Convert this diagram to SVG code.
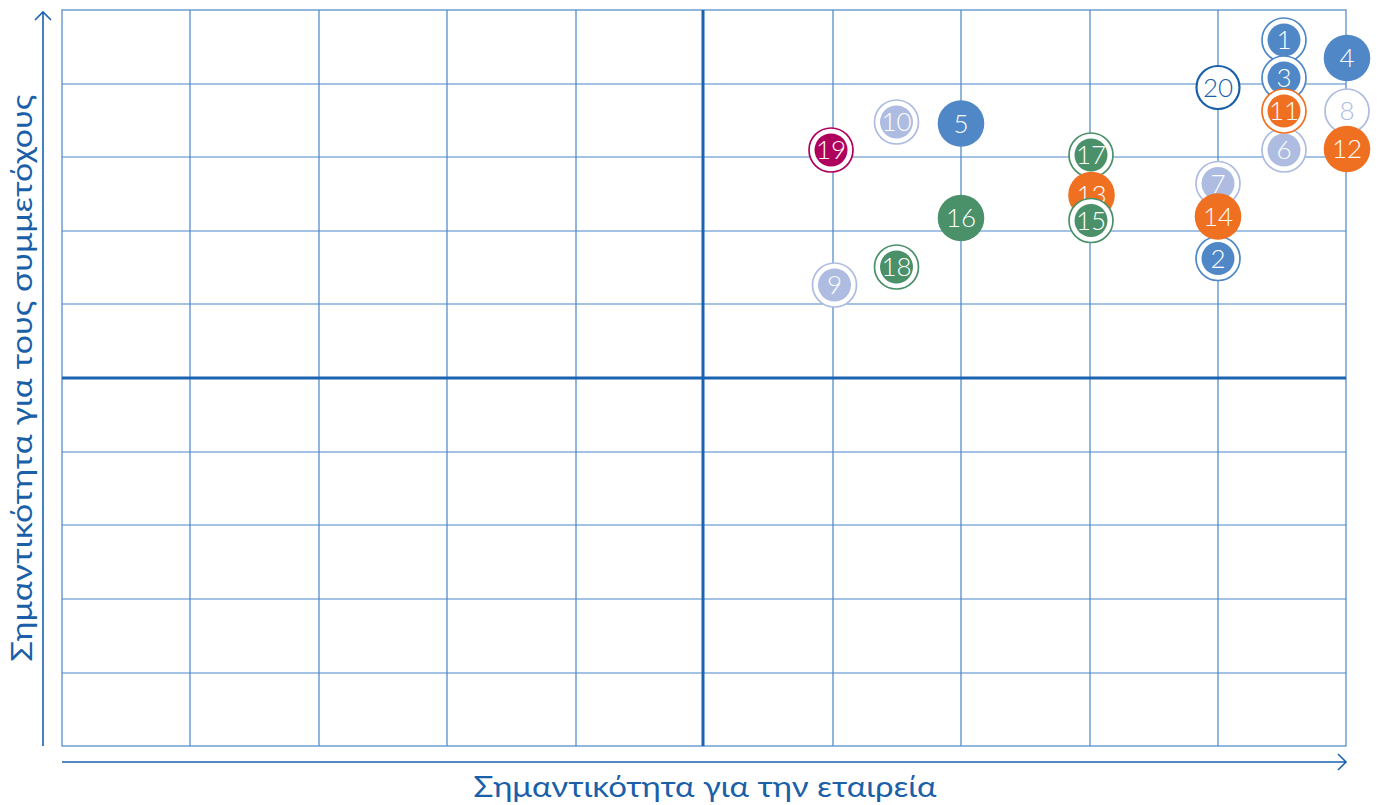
<svg xmlns="http://www.w3.org/2000/svg" width="1379" height="805" viewBox="0 0 1379 805">
<defs>
<style>
.g{stroke:#4a86c8;stroke-width:1.2;fill:none}
.c{stroke:#1a63b0;stroke-width:3;fill:none}
.ax{stroke:#1a63b0;stroke-width:1.6;fill:none}
.lbl{font-family:Lato,"Noto Sans","DejaVu Sans",sans-serif;font-weight:400;font-size:29px;fill:#1a5fa8}
.t{font-family:Lato,"Noto Sans","DejaVu Sans",sans-serif;font-weight:300;font-size:26px;text-anchor:middle;fill:#ffffff}
.ring{fill:#ffffff;stroke-width:1.7}
.blue{fill:#4f87c7}.bs{stroke:#4f87c7}
.org{fill:#f07022}.os{stroke:#f07022}
.grn{fill:#4a9068}.gs{stroke:#4a9068}
.lt{fill:#adbce0}.ls{stroke:#adbce0}
.mag{fill:#b0005e}.ms{stroke:#b0005e}
</style>
</defs>
<rect width="1379" height="805" fill="#ffffff"/>
<g id="grid">
<rect x="62" y="10" width="1284" height="736" class="g"/>
<path class="g" d="M190,10V746M319,10V746M447,10V746M576,10V746M833,10V746M961,10V746M1090,10V746M1218,10V746M62,84H1346M62,157H1346M62,231H1346M62,304H1346M62,452H1346M62,525H1346M62,599H1346M62,673H1346"/>
<path class="c" d="M703,10V746M62,378H1346"/>
</g>
<g id="axes">
<path class="ax" d="M43,746V12M35,20L43,12L51,20"/>
<path class="ax" d="M62,762H1345M1338,754L1346,762L1338,770"/>
<text class="lbl" x="705" y="797" text-anchor="middle" textLength="463" lengthAdjust="spacingAndGlyphs">Σημαντικότητα για την εταιρεία</text>
<text class="lbl" transform="translate(32,378) rotate(-90)" text-anchor="middle" textLength="567" lengthAdjust="spacingAndGlyphs">Σημαντικότητα για τους συμμετόχους</text>
</g>
<g id="n1"><circle cx="1284" cy="40" r="22" class="ring bs"/><circle cx="1284" cy="40" r="16.5" class="blue"/><text class="t" x="1284" y="49">1</text></g>
<g id="n3"><circle cx="1284" cy="78" r="22" class="ring bs"/><circle cx="1284" cy="78" r="16.5" class="blue"/><text class="t" x="1284" y="87">3</text></g>
<g id="n8"><circle cx="1347" cy="111" r="22" class="ring ls"/><text class="t" x="1347" y="120" style="fill:#adbce0">8</text></g>
<g id="n4"><circle cx="1347" cy="58" r="23.3" class="blue"/><text class="t" x="1347" y="67">4</text></g>
<g id="n20"><circle cx="1218" cy="87.5" r="21.5" fill="#ffffff" stroke="#1a5fa8" stroke-width="2.2"/><text class="t" x="1218" y="96.5" style="fill:#1a5fa8">20</text></g>
<g id="n6"><circle cx="1284" cy="150" r="22" class="ring ls"/><circle cx="1284" cy="150" r="16.5" class="lt"/><text class="t" x="1284" y="159">6</text></g>
<g id="n11"><circle cx="1284" cy="111" r="22" class="ring os"/><circle cx="1284" cy="111" r="16.5" class="org"/><text class="t" x="1284" y="120">11</text></g>
<g id="n12"><circle cx="1347" cy="149" r="23.3" class="org"/><text class="t" x="1347" y="158">12</text></g>
<g id="n7"><circle cx="1218" cy="183.5" r="22" class="ring ls"/><circle cx="1218" cy="183.5" r="16.5" class="lt"/><text class="t" x="1218" y="192.5">7</text></g>
<g id="n2"><circle cx="1218" cy="258.5" r="22" class="ring bs"/><circle cx="1218" cy="258.5" r="16.5" class="blue"/><text class="t" x="1218" y="267.5">2</text></g>
<g id="n14"><circle cx="1218" cy="216.5" r="23.3" class="org"/><text class="t" x="1218" y="225.5">14</text></g>
<g id="n17"><circle cx="1091" cy="155" r="22" class="ring gs"/><circle cx="1091" cy="155" r="16.5" class="grn"/><text class="t" x="1091" y="164">17</text></g>
<g id="n13"><circle cx="1091.5" cy="195" r="23.3" class="org"/><text class="t" x="1091.5" y="204">13</text></g>
<g id="n15"><circle cx="1091" cy="220.5" r="22" class="ring gs"/><circle cx="1091" cy="220.5" r="16.5" class="grn"/><text class="t" x="1091" y="229.5">15</text></g>
<g id="n5"><circle cx="961" cy="123.5" r="23.3" class="blue"/><text class="t" x="961" y="132.5">5</text></g>
<g id="n16"><circle cx="961" cy="218" r="23.3" class="grn"/><text class="t" x="961" y="227">16</text></g>
<g id="n10"><circle cx="896.5" cy="122" r="22" class="ring ls"/><circle cx="896.5" cy="122" r="16.5" class="lt"/><text class="t" x="896.5" y="131">10</text></g>
<g id="n19"><circle cx="831" cy="150" r="22" class="ring ms"/><circle cx="831" cy="150" r="16.5" class="mag"/><text class="t" x="831" y="159">19</text></g>
<g id="n18"><circle cx="896.5" cy="267" r="22" class="ring gs"/><circle cx="896.5" cy="267" r="16.5" class="grn"/><text class="t" x="896.5" y="276">18</text></g>
<g id="n9"><circle cx="834.5" cy="285" r="22" class="ring ls"/><circle cx="834.5" cy="285" r="16.5" class="lt"/><text class="t" x="834.5" y="294">9</text></g>
</svg>
